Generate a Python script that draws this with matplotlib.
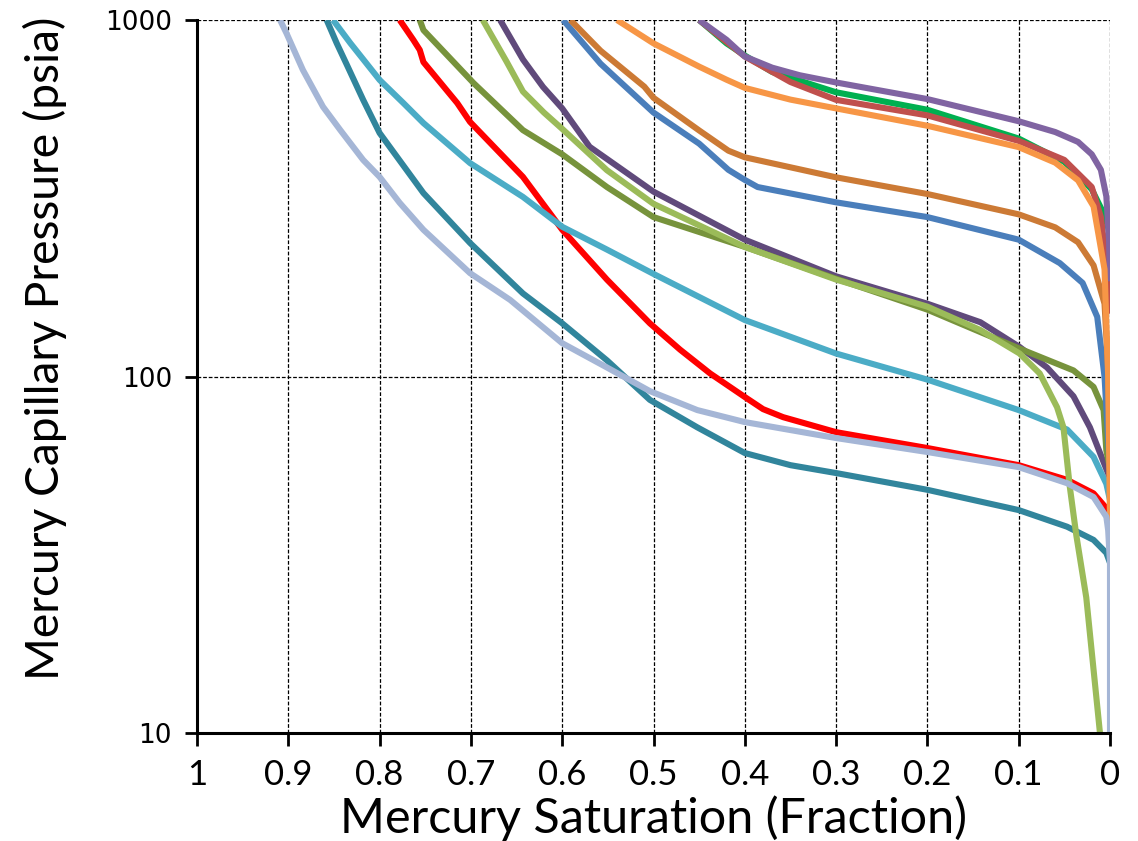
import matplotlib
matplotlib.use('Agg')
import numpy as np
from matplotlib import pyplot as plt

# mercury saturation (fraction) and capillary pressure (psia), one pair per sample
purple_s = [0.450, 0.420, 0.400, 0.370, 0.340, 0.300, 0.200, 0.100, 0.060, 0.035, 0.020, 0.010, 0.004, 0.001, 0.0]
purple_p = [1000, 880, 790, 735, 700, 668, 600, 520, 485, 455, 420, 380, 320, 240, 185]

green_s = [0.450, 0.420, 0.400, 0.370, 0.300, 0.200, 0.100, 0.050, 0.020, 0.005, 0.0]
green_p = [1000, 860, 795, 715, 627, 560, 465, 400, 335, 280, 250]

redbrown_s = [0.450, 0.400, 0.350, 0.300, 0.200, 0.100, 0.050, 0.020, 0.010, 0.003, 0.0]
redbrown_p = [1000, 790, 670, 597, 540, 458, 405, 340, 280, 200, 150]

orange_s = [0.540, 0.500, 0.450, 0.420, 0.400, 0.350, 0.300, 0.200, 0.100, 0.060, 0.035, 0.018, 0.006, 0.002,
            0.0005, 0.0]
orange_p = [1000, 860, 740, 680, 645, 598, 565, 505, 440, 398, 355, 300, 200, 100, 50, 39]

brown_s = [0.591, 0.558, 0.510, 0.500, 0.450, 0.418, 0.400, 0.300, 0.200, 0.100, 0.060, 0.035, 0.018, 0.006,
           0.002, 0.0]
brown_p = [1000, 820, 650, 605, 490, 430, 412, 362, 325, 285, 262, 238, 205, 160, 105, 60]

blue_s = [0.599, 0.558, 0.500, 0.450, 0.418, 0.400, 0.386, 0.300, 0.200, 0.100, 0.055, 0.030, 0.014, 0.006,
          0.001, 0.0]
blue_p = [1000, 754, 550, 450, 380, 356, 340, 308, 280, 242, 208, 183, 147, 100, 60, 55]

darkpurple_s = [0.668, 0.643, 0.621, 0.600, 0.570, 0.500, 0.400, 0.300, 0.200, 0.142, 0.099, 0.069, 0.040,
                0.022, 0.004, 0.0]
darkpurple_p = [1000, 775, 649, 565, 441, 330, 242, 191, 160, 142, 121, 106, 88, 72, 55, 52]

lightgreen_s = [0.687, 0.661, 0.643, 0.620, 0.600, 0.551, 0.500, 0.400, 0.300, 0.200, 0.142, 0.099, 0.077,
                0.058, 0.051, 0.044, 0.037, 0.026, 0.011]
lightgreen_p = [1000, 765, 630, 550, 495, 379, 305, 231, 187, 157, 135, 116, 102, 82, 72, 49, 36, 24, 10]

olive_s = [0.756, 0.752, 0.697, 0.643, 0.600, 0.551, 0.500, 0.400, 0.300, 0.200, 0.100, 0.040, 0.018, 0.007,
           0.004, 0.0]
olive_p = [1000, 937, 665, 491, 420, 340, 280, 231, 188, 154, 120, 104, 93.5, 80.5, 62, 55]

cyan_s = [0.851, 0.832, 0.800, 0.774, 0.752, 0.701, 0.643, 0.600, 0.551, 0.500, 0.400, 0.300, 0.200, 0.100,
          0.047, 0.018, 0.004, 0.0]
cyan_p = [1000, 861, 679, 585, 514, 397, 319, 263, 227, 194, 144, 116, 98, 80.5, 71, 59.5, 50, 45]

red_s = [0.778, 0.763, 0.756, 0.752, 0.715, 0.701, 0.643, 0.600, 0.551, 0.504, 0.471, 0.438, 0.400, 0.380,
         0.358, 0.300, 0.200, 0.100, 0.047, 0.018, 0.005, 0.0]
red_p = [1000, 879, 824, 762, 585, 518, 363, 258, 187, 141, 119, 102, 87.6, 81, 76.9, 69.8, 63, 56.4, 51.3,
         47, 43, 38]

teal_s = [0.858, 0.847, 0.836, 0.818, 0.800, 0.752, 0.701, 0.643, 0.600, 0.551, 0.504, 0.452, 0.400, 0.350,
          0.300, 0.200, 0.100, 0.047, 0.018, 0.004, 0.0]
teal_p = [1000, 861, 750, 597, 482, 327, 237, 171, 141, 111, 86, 72, 61, 56.4, 53.6, 48.1, 42.2, 37.9, 34.8,
          32, 30]

greyblue_s = [0.909, 0.902, 0.884, 0.862, 0.843, 0.818, 0.800, 0.778, 0.752, 0.701, 0.657, 0.600, 0.551,
              0.504, 0.452, 0.400, 0.300, 0.200, 0.100, 0.047, 0.018, 0.004, 0.002, 0.0, 0.0]
greyblue_p = [1000, 918, 724, 571, 491, 405, 363, 307, 258, 195, 164, 124, 106, 91, 80.5, 74.5, 67.2, 61.4,
              55.7, 50.2, 45.9, 40.4, 37, 30, 8]

x_ticks = [1, 0.9, 0.8, 0.7, 0.6, 0.5, 0.4, 0.3, 0.2, 0.1, 0]
x_tick_labels = ['1', '0.9', '0.8', '0.7', '0.6', '0.5', '0.4', '0.3', '0.2', '0.1', '0']
y_ticks = [10, 100, 1000]
y_tick_labels = ['10', '100', '1000']

# drawing order: later ones sit on top
series = [
    (teal_s, teal_p, '#31859C'),
    (red_s, red_p, '#FF0000'),
    (cyan_s, cyan_p, '#4BACC6'),
    (darkpurple_s, darkpurple_p, '#604A7B'),
    (olive_s, olive_p, '#77933C'),
    (lightgreen_s, lightgreen_p, '#9BBB59'),
    (blue_s, blue_p, '#4A7EBB'),
    (brown_s, brown_p, '#CC7A35'),
    (green_s, green_p, '#00B050'),
    (redbrown_s, redbrown_p, '#C0504D'),
    (purple_s, purple_p, '#8064A2'),
    (orange_s, orange_p, '#F79646'),
    (greyblue_s, greyblue_p, '#A5B6D6'),
]

label_font = ['Lato', 'DejaVu Sans']

fig = plt.figure(figsize=(11.38, 8.41), dpi=100)
ax = fig.add_axes([197 / 1138, 1 - 733 / 841, (1110 - 197) / 1138, (733 - 20) / 841])

for s, p, col in series:
    ax.plot(s, p, color=col, linewidth=4.4, solid_joinstyle='round', solid_capstyle='butt')

ax.set_yscale('log')
ax.set_xlim(1, 0)
ax.set_ylim(10, 1000)

ax.set_xticks(x_ticks)
ax.set_xticklabels(x_tick_labels, family=label_font, fontsize=25)
ax.set_yticks(y_ticks)
ax.set_yticklabels(y_tick_labels, family='DejaVu Sans', fontsize=19)
ax.yaxis.set_minor_locator(matplotlib.ticker.NullLocator())

ax.tick_params(axis='x', direction='out', length=9, width=2, pad=10)
ax.tick_params(axis='y', direction='out', length=9, width=2, pad=9)

ax.grid(True, which='major', color='black', linestyle=(0, (3, 1.5)), linewidth=0.9)
ax.set_axisbelow(True)

for side in ['top', 'right']:
    ax.spines[side].set_visible(False)
for side in ['left', 'bottom']:
    ax.spines[side].set_linewidth(2.2)

xl = ax.set_xlabel('Mercury Saturation (Fraction)', family=label_font, fontsize=36)
yl = ax.set_ylabel('Mercury Capillary Pressure (psia)', family=label_font, fontsize=36)

# size the axis titles so they span about as far as in the source picture
fig.canvas.draw()
w = xl.get_window_extent().width
xl.set_fontsize(36 * 628 / w)
h = yl.get_window_extent().height
yl.set_fontsize(36 * 665 / h)

ax.xaxis.set_label_coords(0.5, -0.119)
ax.yaxis.set_label_coords(-0.167, 0.54)
xl.set_va('center')
yl.set_va('center')

fig.savefig('out.png', dpi=100)
